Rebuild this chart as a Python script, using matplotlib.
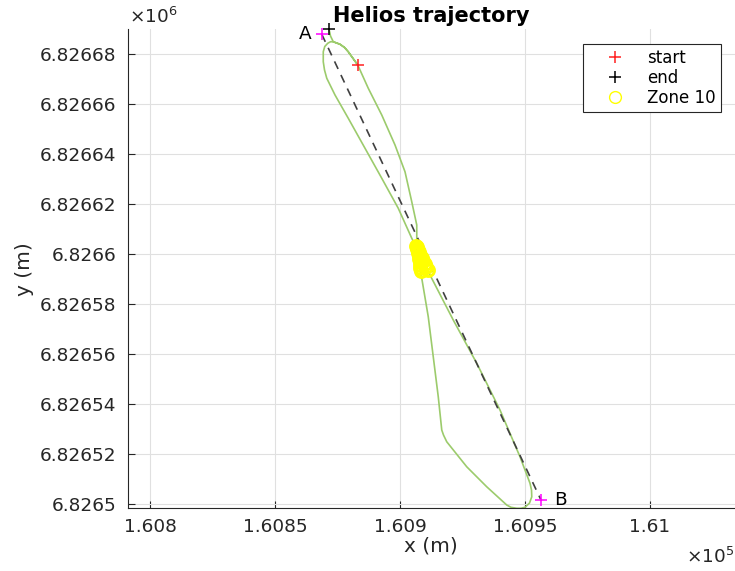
import matplotlib
matplotlib.use("Agg")
import matplotlib.pyplot as plt
from matplotlib.ticker import FixedLocator, FuncFormatter

# flight track (UTM metres), sampled along the recorded path
track_x = [160883.1, 160879.3, 160877.8, 160876.0, 160873.3, 160872.2, 160871.1,
           160869.9, 160869.3, 160869.3, 160869.8, 160870.7, 160874.0, 160879.3,
           160886.0, 160892.7, 160899.3, 160904.7, 160908.0, 160912.0, 160921.3,
           160930.7, 160940.0, 160948.0, 160952.0, 160952.6, 160952.7, 160951.8,
           160950.0, 160948.4, 160946.7, 160944.4, 160942.7, 160934.7, 160926.7,
           160918.7, 160917.4, 160916.7, 160915.3, 160913.3, 160911.3, 160908.7,
           160907.4, 160906.7, 160906.7, 160904.7, 160902.0, 160898.0, 160892.7,
           160887.3, 160883.1, 160879.3, 160877.8, 160876.0, 160873.3, 160872.2,
           160871.6]
track_y = [6826675.7, 6826681.0, 6826682.7, 6826684.0, 6826685.0, 6826685.0, 6826684.4,
           6826683.1, 6826681.0, 6826677.0, 6826673.7, 6826670.4, 6826663.7, 6826654.4,
           6826642.4, 6826630.4, 6826618.4, 6826606.4, 6826599.7, 6826591.7, 6826573.7,
           6826556.4, 6826537.7, 6826519.0, 6826508.4, 6826505.7, 6826503.0, 6826500.5,
           6826498.8, 6826498.4, 6826498.4, 6826498.8, 6826499.7, 6826507.0, 6826515.0,
           6826525.0, 6826527.7, 6826529.7, 6826543.0, 6826559.0, 6826575.0, 6826590.4,
           6826598.5, 6826605.0, 6826611.7, 6826621.0, 6826633.0, 6826643.7, 6826655.7,
           6826666.4, 6826675.7, 6826681.0, 6826682.7, 6826684.0, 6826685.0, 6826687.3,
           6826690.1]

# samples flagged inside zone 10 (both passes through the crossing)
zone_x = [160906.2, 160906.8, 160907.4, 160908.0, 160908.6, 160909.2, 160909.8,
          160910.4, 160911.0,
          160906.9, 160907.1, 160907.3, 160907.5, 160907.6, 160907.8, 160908.0,
          160908.1, 160908.3]
zone_y = [6826603.3, 6826602.1, 6826600.9, 6826599.7, 6826598.5, 6826597.3, 6826596.1,
          6826594.9, 6826593.7,
          6826602.9, 6826601.7, 6826600.5, 6826599.3, 6826598.1, 6826596.9, 6826595.7,
          6826594.5, 6826593.3]

start_xy = (160883.1, 6826675.7)
end_xy = (160871.6, 6826690.1)

# waypoints A and B
wp_names = ["A", "B"]
wp_x = [160868.7, 160956.4]
wp_y = [6826688.0, 6826501.7]

x_ticks = [160800, 160850, 160900, 160950, 161000]
y_ticks = [6826500, 6826520, 6826540, 6826560, 6826580, 6826600,
           6826620, 6826640, 6826660, 6826680]

plt.rcParams['font.family'] = ['DejaVu Sans']
txt = '#262626'

fig = plt.figure(figsize=(7.35, 5.71), dpi=100)
ax = fig.add_axes([0.1735, 0.1098, 0.8265, 0.8394])

ax.plot(track_x, track_y, color='#9ccb6c', lw=1.2, zorder=2)
ax.plot(wp_x, wp_y, color='#404040', lw=1.2, ls=(0, (5, 4)), zorder=3)
ax.plot(wp_x, wp_y, '+', color='#ff00ff', ms=8.5, mew=1.1, zorder=5, clip_on=False)
for name, wx, wy, dx in zip(wp_names, wp_x, wp_y, [-17, 19]):
    ax.annotate(name, (wx, wy), xytext=(dx, 0), textcoords='offset pixels',
                ha='center', va='center', fontsize=13.3, color='k')

h_start, = ax.plot(*start_xy, '+', color='#ff2020', ms=8.5, mew=1.1, zorder=6,
                   label='start', clip_on=False)
h_end, = ax.plot(*end_xy, '+', color='k', ms=8.5, mew=1.1, zorder=6,
                 label='end', clip_on=False)
h_zone, = ax.plot(zone_x, zone_y, 'o', color='#ffff00', mfc='none', ms=8.5, mew=2.2,
                  ls='none', zorder=4, label='Zone 10')

ax.set_xlim(160791, 161034)
ax.set_ylim(6826498.4, 6826690.1)

ax.xaxis.set_major_locator(FixedLocator(x_ticks))
ax.yaxis.set_major_locator(FixedLocator(y_ticks))
ax.xaxis.set_major_formatter(FuncFormatter(lambda v, p: f'{v / 1e5:.6g}'))
ax.yaxis.set_major_formatter(FuncFormatter(lambda v, p: f'{v / 1e6:.6g}'))
ax.tick_params(direction='in', length=5, width=0.8, color=txt, labelcolor=txt,
               labelsize=13.3)
ax.tick_params(axis='x', pad=7)
ax.tick_params(axis='y', pad=8)

ax.grid(True, color='#e0e0e0', lw=0.8)
ax.set_axisbelow(True)
for side in ['top', 'right']:
    ax.spines[side].set_visible(False)
for side in ['left', 'bottom']:
    ax.spines[side].set_color(txt)
    ax.spines[side].set_linewidth(0.8)

ax.set_xlabel('x (m)', fontsize=14.5, color=txt, labelpad=0.5)
ax.set_ylabel('y (m)', fontsize=14.5, color=txt, labelpad=4)
ax.set_title('Helios trajectory', fontsize=15, fontweight='bold', pad=5)

ax.text(0.002, 1.004, r'$\times10^{6}$', transform=ax.transAxes, ha='left',
        va='bottom', fontsize=13.3, color=txt)
fig.text(0.999, 1 - 567 / 571, r'$\times10^{5}$', ha='right', va='bottom',
         fontsize=13.3, color=txt)

leg = ax.legend(handles=[h_start, h_end, h_zone], loc='upper right',
                bbox_to_anchor=(0.9765, 0.9687), borderaxespad=0, fontsize=12,
                fancybox=False, framealpha=1, edgecolor='#262626',
                handlelength=3.2, handletextpad=0.32, borderpad=0.3,
                labelspacing=0.12)
leg.get_frame().set_linewidth(0.8)
leg.legend_handles[2].set_markeredgewidth(1)

fig.savefig('out.png', dpi=100)
